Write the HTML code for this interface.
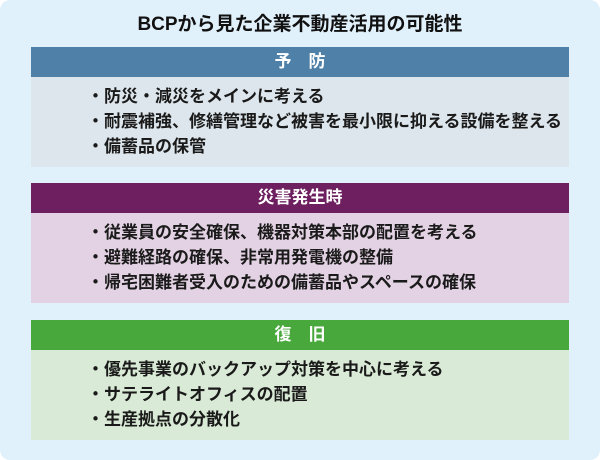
<!DOCTYPE html>
<html><head><meta charset="utf-8"><style>
body{margin:0;width:600px;height:460px;background:#fff;font-family:"Liberation Sans","Noto Sans CJK JP",sans-serif;}
.wrap{position:absolute;left:0;top:0;width:600px;height:460px;background:#e1f1fc;border-radius:10px;}
.t{position:absolute;left:0;width:600px;top:9px;text-align:center;font-size:19px;font-weight:bold;color:#111;}
.h{position:absolute;left:31px;width:538px;height:30px;line-height:30px;text-align:center;color:#fff;font-size:17px;font-weight:bold;}
.b{position:absolute;left:31px;width:538px;height:90px;box-sizing:border-box;padding:7px 0 0 56px;font-size:17px;font-weight:bold;color:#1a1a1a;line-height:25px;white-space:nowrap;}
</style></head><body><div class="wrap">
<div class="t">BCPから見た企業不動産活用の可能性</div>
<div class="h" style="top:47px;background:#4f80a8">予　防</div>
<div class="b" style="top:77px;background:#dde6ec">・防災・減災をメインに考える<br>・耐震補強、修繕管理など被害を最小限に抑える設備を整える<br>・備蓄品の保管</div>
<div class="h" style="top:183px;background:#6d1f5f">災害発生時</div>
<div class="b" style="top:213px;background:#e3d2e3">・従業員の安全確保、機器対策本部の配置を考える<br>・避難経路の確保、非常用発電機の整備<br>・帰宅困難者受入のための備蓄品やスペースの確保</div>
<div class="h" style="top:320px;background:#48a83c">復　旧</div>
<div class="b" style="top:350px;background:#d9ebd6">・優先事業のバックアップ対策を中心に考える<br>・サテライトオフィスの配置<br>・生産拠点の分散化</div>
</div></body></html>
